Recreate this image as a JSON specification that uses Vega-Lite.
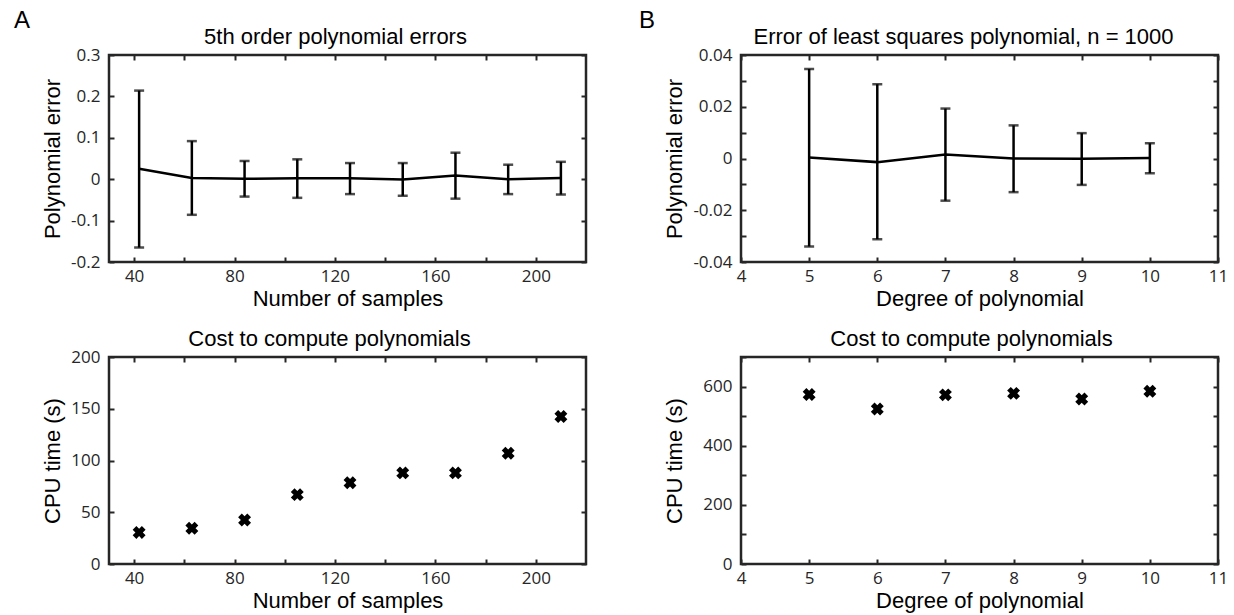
{
  "$schema": "https://vega.github.io/schema/vega-lite/v6.json",
  "padding": {"left": 12, "top": 7, "right": 5, "bottom": 5},
  "background": "white",
  "config": {
    "view": {"stroke": "#262626", "strokeWidth": 2.5},
    "axis": {
      "domain": false, "grid": false, "tickSize": -5, "tickWidth": 2, "tickColor": "#262626",
      "labelFont": "Open Sans", "labelFontSize": 17, "labelColor": "#262626",
      "labelFlush": false, "labelOverlap": false,
      "titleFont": "Liberation Sans", "titleFontSize": 22, "titleFontWeight": "normal", "titleColor": "#000"
    },
    "axisX": {"labelPadding": 11},
    "axisY": {"labelPadding": 14},
    "title": {"font": "Liberation Sans", "fontSize": 24, "fontWeight": "normal", "color": "#000", "anchor": "start", "frame": "group"}
  },
  "datasets": {
    "errA": [
      {"n": 42, "err": 0.025, "lo": -0.165, "hi": 0.214},
      {"n": 63, "err": 0.003, "lo": -0.086, "hi": 0.092},
      {"n": 84, "err": 0.001, "lo": -0.042, "hi": 0.044},
      {"n": 105, "err": 0.002, "lo": -0.045, "hi": 0.048},
      {"n": 126, "err": 0.002, "lo": -0.036, "hi": 0.039},
      {"n": 147, "err": -0.001, "lo": -0.040, "hi": 0.039},
      {"n": 168, "err": 0.009, "lo": -0.047, "hi": 0.064},
      {"n": 189, "err": 0.000, "lo": -0.036, "hi": 0.035},
      {"n": 210, "err": 0.003, "lo": -0.037, "hi": 0.042}
    ],
    "cpuA": [
      {"n": 42, "cpu": 30.5},
      {"n": 63, "cpu": 34.5},
      {"n": 84, "cpu": 42.5},
      {"n": 105, "cpu": 67},
      {"n": 126, "cpu": 78.5},
      {"n": 147, "cpu": 88},
      {"n": 168, "cpu": 88},
      {"n": 189, "cpu": 107},
      {"n": 210, "cpu": 142.5}
    ],
    "errB": [
      {"deg": 5, "err": 0.0004, "lo": -0.0340, "hi": 0.0346},
      {"deg": 6, "err": -0.0014, "lo": -0.0312, "hi": 0.0287},
      {"deg": 7, "err": 0.0015, "lo": -0.0163, "hi": 0.0193},
      {"deg": 8, "err": 0.0000, "lo": -0.0130, "hi": 0.0128},
      {"deg": 9, "err": -0.0001, "lo": -0.0102, "hi": 0.0098},
      {"deg": 10, "err": 0.0002, "lo": -0.0057, "hi": 0.0059}
    ],
    "cpuB": [
      {"deg": 5, "cpu": 573},
      {"deg": 6, "cpu": 524},
      {"deg": 7, "cpu": 572},
      {"deg": 8, "cpu": 577},
      {"deg": 9, "cpu": 558},
      {"deg": 10, "cpu": 584}
    ]
  },
  "columns": 2,
  "spacing": {"row": 95, "column": 155},
  "bounds": "flush",
  "concat": [
    {
      "width": 477, "height": 207,
      "title": {"text": "A", "dx": -95, "dy": 12},
      "data": {"name": "errA"},
      "layer": [
        {
          "mark": {"type": "rule", "color": "#000", "strokeWidth": 2.5},
          "encoding": {
            "x": {"field": "n", "type": "quantitative", "scale": {"domain": [30, 220], "nice": false, "zero": false},
                  "axis": {"orient": "bottom", "values": [40, 60, 80, 100, 120, 140, 160, 180, 200],
                           "labelExpr": "datum.value % 40 == 0 ? '' + datum.value : ''",
                           "title": "Number of samples", "titleY": 26}},
            "y": {"field": "lo", "type": "quantitative", "scale": {"domain": [-0.2, 0.3], "nice": false, "zero": false},
                  "axis": {"orient": "left", "values": [-0.2, -0.1, 0, 0.1, 0.2, 0.3], "labelExpr": "'' + datum.value",
                           "title": "Polynomial error", "titleX": -45}},
            "y2": {"field": "hi"}
          }
        },
        {
          "mark": {"type": "tick", "orient": "horizontal", "size": 10, "thickness": 2.5, "color": "#000"},
          "encoding": {
            "x": {"field": "n", "type": "quantitative",
                  "axis": {"orient": "top", "values": [40, 60, 80, 100, 120, 140, 160, 180, 200], "labels": false,
                           "title": "5th order polynomial errors", "titleX": 226, "titleY": -7}},
            "y": {"field": "lo", "type": "quantitative",
                  "axis": {"orient": "right", "values": [-0.2, -0.1, 0, 0.1, 0.2, 0.3], "labels": false, "title": null}}
          }
        },
        {
          "mark": {"type": "tick", "orient": "horizontal", "size": 10, "thickness": 2.5, "color": "#000"},
          "encoding": {
            "x": {"field": "n", "type": "quantitative", "axis": null},
            "y": {"field": "hi", "type": "quantitative", "axis": null}
          }
        },
        {
          "mark": {"type": "line", "color": "#000", "strokeWidth": 2.5},
          "encoding": {
            "x": {"field": "n", "type": "quantitative", "axis": null},
            "y": {"field": "err", "type": "quantitative", "axis": null}
          }
        }
      ],
      "resolve": {"axis": {"x": "independent", "y": "independent"}}
    },
    {
      "width": 477, "height": 207,
      "title": {"text": "B", "dx": -102, "dy": 12},
      "data": {"name": "errB"},
      "layer": [
        {
          "mark": {"type": "rule", "color": "#000", "strokeWidth": 2.5},
          "encoding": {
            "x": {"field": "deg", "type": "quantitative", "scale": {"domain": [4, 11], "nice": false, "zero": false},
                  "axis": {"orient": "bottom", "values": [4, 5, 6, 7, 8, 9, 10, 11], "labelExpr": "'' + datum.value",
                           "title": "Degree of polynomial", "titleY": 26}},
            "y": {"field": "lo", "type": "quantitative", "scale": {"domain": [-0.04, 0.04], "nice": false, "zero": false},
                  "axis": {"orient": "left", "values": [-0.04, -0.03, -0.02, -0.01, 0, 0.01, 0.02, 0.03, 0.04],
                           "labelExpr": "abs(round(datum.value * 100)) % 2 == 0 ? '' + datum.value : ''",
                           "title": "Polynomial error", "titleX": -55}},
            "y2": {"field": "hi"}
          }
        },
        {
          "mark": {"type": "tick", "orient": "horizontal", "size": 10, "thickness": 2.5, "color": "#000"},
          "encoding": {
            "x": {"field": "deg", "type": "quantitative",
                  "axis": {"orient": "top", "values": [4, 5, 6, 7, 8, 9, 10, 11], "labels": false,
                           "title": "Error of least squares polynomial, n = 1000", "titleX": 222, "titleY": -7}},
            "y": {"field": "lo", "type": "quantitative",
                  "axis": {"orient": "right", "values": [-0.04, -0.03, -0.02, -0.01, 0, 0.01, 0.02, 0.03, 0.04], "labels": false, "title": null}}
          }
        },
        {
          "mark": {"type": "tick", "orient": "horizontal", "size": 10, "thickness": 2.5, "color": "#000"},
          "encoding": {
            "x": {"field": "deg", "type": "quantitative", "axis": null},
            "y": {"field": "hi", "type": "quantitative", "axis": null}
          }
        },
        {
          "mark": {"type": "line", "color": "#000", "strokeWidth": 2.5},
          "encoding": {
            "x": {"field": "deg", "type": "quantitative", "axis": null},
            "y": {"field": "err", "type": "quantitative", "axis": null}
          }
        }
      ],
      "resolve": {"axis": {"x": "independent", "y": "independent"}}
    },
    {
      "width": 477, "height": 207,
      "data": {"name": "cpuA"},
      "layer": [
        {
          "mark": {"type": "point", "shape": "cross", "angle": 45, "filled": true, "size": 170, "color": "#000", "opacity": 1},
          "encoding": {
            "x": {"field": "n", "type": "quantitative", "scale": {"domain": [30, 220], "nice": false, "zero": false},
                  "axis": {"orient": "bottom", "values": [40, 60, 80, 100, 120, 140, 160, 180, 200],
                           "labelExpr": "datum.value % 40 == 0 ? '' + datum.value : ''",
                           "title": "Number of samples", "titleY": 26}},
            "y": {"field": "cpu", "type": "quantitative", "scale": {"domain": [0, 200], "nice": false},
                  "axis": {"orient": "left", "values": [0, 50, 100, 150, 200], "labelExpr": "'' + datum.value",
                           "title": "CPU time (s)", "titleX": -45}}
          }
        },
        {
          "mark": {"type": "point", "shape": "cross", "angle": 45, "filled": true, "size": 170, "color": "#000", "opacity": 0},
          "encoding": {
            "x": {"field": "n", "type": "quantitative",
                  "axis": {"orient": "top", "values": [40, 60, 80, 100, 120, 140, 160, 180, 200], "labels": false,
                           "title": "Cost to compute polynomials", "titleX": 220, "titleY": -7}},
            "y": {"field": "cpu", "type": "quantitative",
                  "axis": {"orient": "right", "values": [0, 50, 100, 150, 200], "labels": false, "title": null}}
          }
        }
      ],
      "resolve": {"axis": {"x": "independent", "y": "independent"}}
    },
    {
      "width": 477, "height": 207,
      "data": {"name": "cpuB"},
      "layer": [
        {
          "mark": {"type": "point", "shape": "cross", "angle": 45, "filled": true, "size": 170, "color": "#000", "opacity": 1},
          "encoding": {
            "x": {"field": "deg", "type": "quantitative", "scale": {"domain": [4, 11], "nice": false, "zero": false},
                  "axis": {"orient": "bottom", "values": [4, 5, 6, 7, 8, 9, 10, 11], "labelExpr": "'' + datum.value",
                           "title": "Degree of polynomial", "titleY": 26}},
            "y": {"field": "cpu", "type": "quantitative", "scale": {"domain": [0, 700], "nice": false},
                  "axis": {"orient": "left", "values": [0, 100, 200, 300, 400, 500, 600, 700],
                           "labelExpr": "datum.value % 200 == 0 ? '' + datum.value : ''",
                           "title": "CPU time (s)", "titleX": -55}}
          }
        },
        {
          "mark": {"type": "point", "shape": "cross", "angle": 45, "filled": true, "size": 170, "color": "#000", "opacity": 0},
          "encoding": {
            "x": {"field": "deg", "type": "quantitative",
                  "axis": {"orient": "top", "values": [4, 5, 6, 7, 8, 9, 10, 11], "labels": false,
                           "title": "Cost to compute polynomials", "titleX": 230, "titleY": -7}},
            "y": {"field": "cpu", "type": "quantitative",
                  "axis": {"orient": "right", "values": [0, 100, 200, 300, 400, 500, 600, 700], "labels": false, "title": null}}
          }
        }
      ],
      "resolve": {"axis": {"x": "independent", "y": "independent"}}
    }
  ]
}
